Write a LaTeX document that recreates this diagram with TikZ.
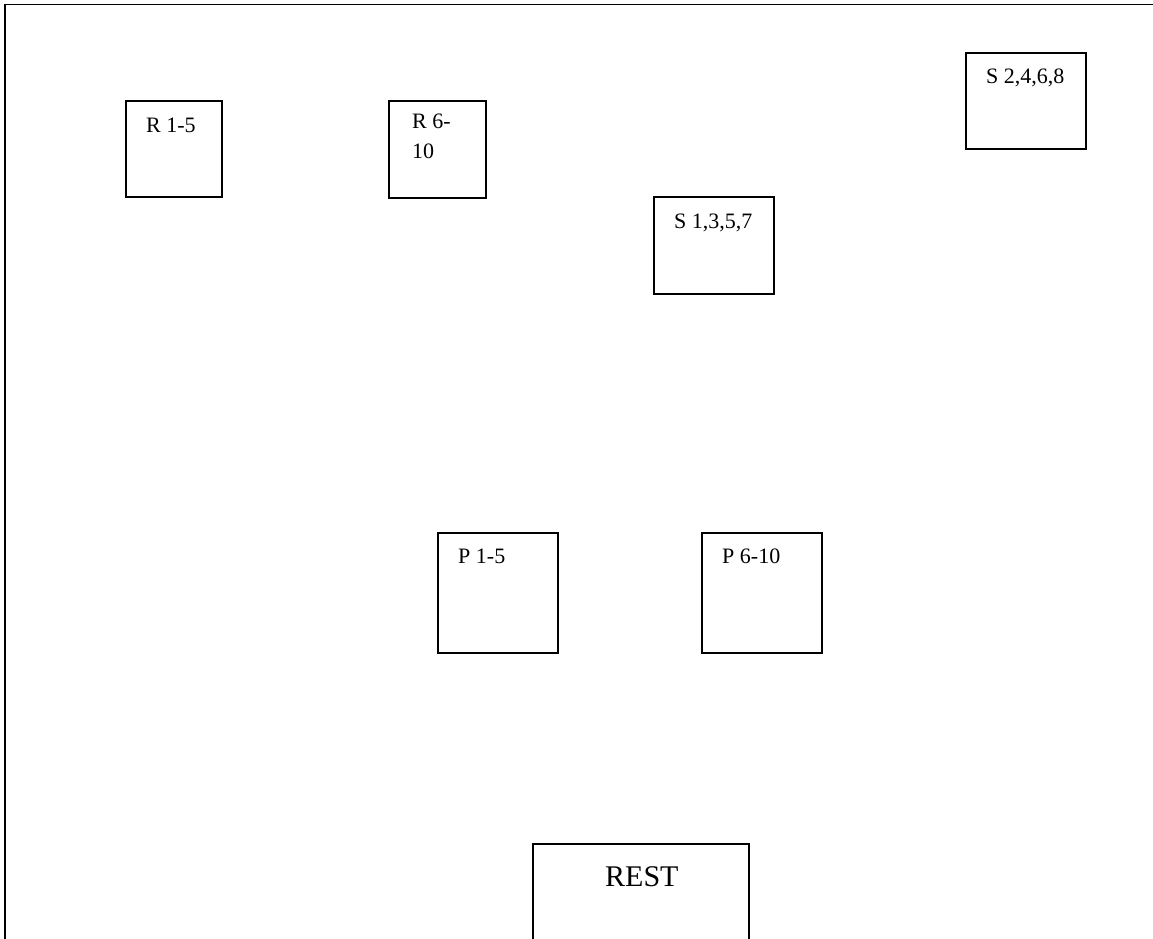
\documentclass[tikz,border=0pt]{standalone}
\usepackage{fontspec}
\setmainfont{Liberation Serif}
\begin{document}
\begin{tikzpicture}[x=1pt,y=-1pt,
  box/.style={draw,line width=1.7pt,anchor=north west,inner sep=0pt},
  lbl/.style={anchor=base west,inner sep=0pt,font=\fontsize{22}{20}\selectfont},
  big/.style={anchor=base west,inner sep=0pt,font=\fontsize{30}{34}\selectfont}]
\useasboundingbox (0,0) rectangle (1153,938);
\clip (0,0) rectangle (1153,938);
% frame
\draw[line width=1.9pt] (1160,4.5) -- (5,4.5) -- (5,945);
% boxes
\node[box,minimum width=96pt,minimum height=96pt] (r15) at (125,100) {};
\node[lbl] (r15t) at (146,132) {R 1-5};
\node[box,minimum width=97pt,minimum height=97pt] (r610) at (388,100) {};
\node[lbl] (r610a) at (412,128.5) {R 6-};
\node[lbl] (r610b) at (412,158.5) {10};
\node[box,minimum width=120pt,minimum height=96pt] (s2468) at (965,52) {};
\node[lbl] (s2468t) at (986,83) {S 2,4,6,8};
\node[box,minimum width=120pt,minimum height=97pt] (s1357) at (653,196) {};
\node[lbl] (s1357t) at (674,228) {S 1,3,5,7};
\node[box,minimum width=120pt,minimum height=120pt] (p15) at (437,532) {};
\node[lbl] (p15t) at (458,563) {P 1-5};
\node[box,minimum width=120pt,minimum height=120pt] (p610) at (701,532) {};
\node[lbl] (p610t) at (722,563) {P 6-10};
% REST box, open at the bottom
\coordinate (restbl) at (533,945);
\coordinate (resttl) at (533,844);
\coordinate (resttr) at (749,844);
\coordinate (restbr) at (749,945);
\draw[line width=1.7pt] (restbl) -- (resttl) -- (resttr) -- (restbr);
\node[big] (restt) at (605,886) {REST};
\end{tikzpicture}
\end{document}
